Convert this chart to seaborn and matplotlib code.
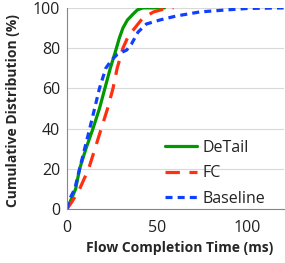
import matplotlib.pyplot as plt
import numpy as np
import pandas as pd
import seaborn as sns

# CDF points (ms, %)
detail_x = [0, 2.4, 4.8, 7, 10.5, 14.4, 18, 21, 24, 27.4, 29, 31, 33.5, 36.7, 39, 42, 54]
detail_y = [0, 5, 10, 20, 30, 40, 50, 60, 70, 80, 85, 90, 94, 97, 99, 100, 100]
fc_x = [0, 3, 7, 12, 15.5, 19, 22.5, 25.5, 27.8, 31, 34, 37.6, 42, 48, 54, 59]
fc_y = [0, 4, 10, 20, 30, 40, 50, 60, 70, 80, 86, 90, 95, 98, 99.5, 100]
base_x = [0, 1.5, 4.3, 7, 9.8, 12.6, 15.3, 18, 21.5, 24.6, 28, 33, 35.7, 39.4, 44, 51.5, 60.7, 73.7, 88.5, 99.6, 120]
base_y = [0, 5, 10, 20, 30, 40, 50, 60, 70, 74, 77, 79, 82, 88, 92, 94, 96, 98, 99, 99.7, 100]

sns.set_style("white")
plt.rcParams['font.family'] = ['Open Sans', 'DejaVu Sans']

fig = plt.figure(figsize=(2.85, 2.63), dpi=100)
ax = fig.add_axes([0.235, 0.205, 0.76, 0.765])

sns.lineplot(x=detail_x, y=detail_y, ax=ax, color='#009a00', linewidth=2.3, label='DeTail', sort=False)
sns.lineplot(x=fc_x, y=fc_y, ax=ax, color='#ff3010', linewidth=2.3, label='FC', sort=False)
sns.lineplot(x=base_x, y=base_y, ax=ax, color='#1040ff', linewidth=2.3, label='Baseline', sort=False)
ax.lines[1].set_dashes([4.5, 3])
ax.lines[2].set_dashes([2.2, 1.6])

ax.set_xlim(0, 120)
ax.set_ylim(0, 100)
ax.set_xticks([0, 50, 100])
ax.set_yticks([0, 20, 40, 60, 80, 100])
ax.yaxis.grid(True, color='#d9d9d9', linewidth=0.8)
ax.set_axisbelow(True)
for s in ['top', 'right']:
    ax.spines[s].set_visible(False)
for s in ['left', 'bottom']:
    ax.spines[s].set_color('#868686')
    ax.spines[s].set_linewidth(0.8)
ax.tick_params(axis='both', labelsize=11.5, length=3, color='#868686', width=0.8, pad=2,
               labelcolor='#222222')
ax.tick_params(axis='x', pad=5)

ax.set_xlabel("Flow Completion Time (ms)", fontsize=10, fontweight='bold')
ax.set_ylabel("Cumulative Distribution (%)", fontsize=10, fontweight='bold')
ax.xaxis.set_label_coords(0.52, -0.16)
ax.yaxis.set_label_coords(-0.215, 0.49)

leg = ax.legend(loc='lower right', frameon=False, fontsize=11.5, handlelength=2.0,
                labelspacing=0.6, handletextpad=0.35, bbox_to_anchor=(0.98, -0.06))
for t in leg.get_texts():
    t.set_color('#222222')

fig.savefig('out.png', dpi=100)
